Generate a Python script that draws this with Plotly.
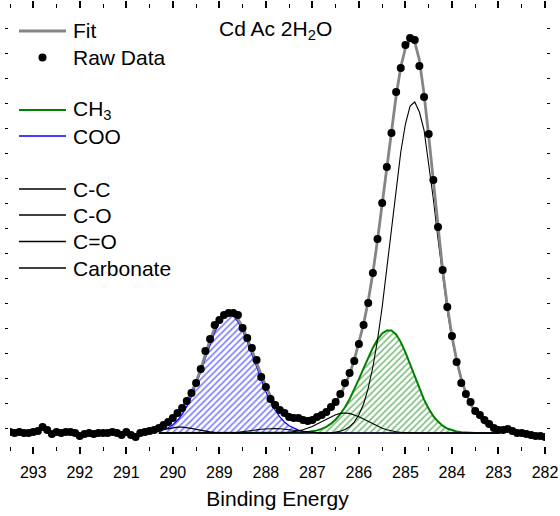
import numpy as np
import plotly.graph_objects as go

# ---------------- data ----------------
STEP = 0.1
RAW_START = 293.5   # binding energy of first raw point (eV)
FIT_START = 290.3   # binding energy of first fit/component point (eV)

raw_counts = [
    1, 0, 1, 0, 0, 1, 2, 6, 3, -1,
    1, 0, 1, 1, 0, -3, -1, 0, -1, 0,
    0, 0, 1, 0, -2, 1, -2, -4, 0, 1,
    2, 3, 5, 8, 11, 15, 20, 25, 32, 40,
    50, 64, 82, 94, 108, 113, 118, 120, 120, 118,
    105, 95, 85, 73, 56, 46, 34, 28, 23, 20,
    16, 15, 15, 13, 12, 13, 16, 18, 21, 26,
    31, 39, 50, 60, 72, 89, 108, 130, 160, 194,
    230, 266, 300, 341, 365, 388, 395, 393, 367, 336,
    299, 253, 206, 163, 126, 97, 71, 50, 39, 31,
    22, 18, 13, 9, 5, 3, 3, 4, 2, 0,
    0, -1, -2, -3, -3, -4,
]

fit_counts = [
    5, 7, 10, 14, 19, 25, 32, 41, 51, 64,
    79, 93, 105, 114, 119, 121, 119, 114, 106, 95,
    83, 70, 58, 47, 37, 29, 23, 19, 16, 15,
    14, 14, 14, 15, 17, 19, 22, 26, 31, 38,
    48, 59, 73, 90, 109, 132, 160, 193, 229, 266,
    303, 337, 366, 385, 393, 391, 373, 339, 297, 251,
    205, 163, 127, 97, 73, 54, 40, 29, 21, 15,
    10, 7, 4, 3,
]

coo = [
    1.9, 3.2, 5.2, 8.3, 12.7, 18.7, 26.6, 36.4, 48.1, 61.2,
    74.9, 88.5, 100.8, 110.5, 116.8, 119, 117, 111.4, 102.6, 91.3,
    78.7, 65.6, 52.9, 41.3, 31.2, 22.8, 16.1, 11.0, 7.3, 4.7,
    2.9, 1.7, 1.0, 0.6, 0.3, 0.15, 0, 0, 0, 0,
] + [0] * 34

carbonate = [
    2.6, 3.6, 4.6, 5.5, 5.9, 5.9, 5.5, 4.6, 3.6, 2.6,
    1.7, 1.1, 0.6, 0.3, 0.15,
] + [0] * 59

c_eq_o = [0] * 16 + [
    0.5, 0.8, 1.2, 1.7, 2.4, 3.1, 3.7, 4.2, 4.5, 4.5,
    4.2, 3.7, 3.1, 2.4, 1.7, 1.2, 0.8, 0.5, 0.3, 0.1,
] + [0] * 38

c_o = [0] * 28 + [
    0.8, 1.3, 2.1, 3.2, 4.7, 6.6, 8.9, 11.4, 13.9, 16.3,
    18.3, 19.6, 20, 19.6, 18.3, 16.3, 13.9, 11.4, 8.9, 6.6,
    4.7, 3.2, 2.1, 1.3, 0.8, 0.4, 0.2,
] + [0] * 19

ch3 = [0] * 29 + [
    0.15, 0.3, 0.5, 0.9, 1.6, 2.6, 4.1, 6.2, 9.3, 13.5,
    18.9, 25.7, 33.9, 43.4, 53.8, 64.7, 75.4, 85.3, 93.5, 99.5,
    102.6, 102.5, 98.5, 90.9, 80.6, 68.7, 56.2, 44.2, 33.4, 24.3,
    16.9, 11.4, 7.3, 4.5, 2.7, 1.5, 0.8, 0.4, 0.2, 0.1,
] + [0] * 5

c_c = [0] * 38 + [
    0.9, 1.8, 3.5, 6.3, 10.9, 18.2, 29, 44.8, 66, 93,
    126, 164, 205, 245, 281, 309, 327, 331, 321, 303,
    270, 234, 194, 156, 122, 94, 71, 53, 40, 29,
    21, 15, 10, 7, 4, 3,
]

x_ticks = list(range(282, 294))
legend_labels = ["Fit", "Raw Data", "CH<sub>3</sub>", "COO",
                 "C-C", "C-O", "C=O", "Carbonate"]
title_text = "Cd Ac 2H<sub>2</sub>O"
x_title = "Binding Energy"

for arr in (fit_counts, coo, carbonate, c_eq_o, c_o, ch3, c_c):
    assert len(arr) == len(fit_counts)

raw_be = np.round(RAW_START - STEP * np.arange(len(raw_counts)), 1)
fit_be = np.round(FIT_START - STEP * np.arange(len(fit_counts)), 1)

# ---------------- styles / layout ----------------
FONT = "Arial, 'Liberation Sans', sans-serif"
GREEN = "#008000"
BLUE = "#0000FF"
GRAY = "#858585"

W, H = 560, 516
ML, MR, MT, MB = 10, 15, 10, 71
PW, PH = W - ML - MR, H - MT - MB


def px_x(px):   # page pixel -> paper x
    return (px - ML) / PW


def px_y(py):   # page pixel -> paper y
    return (H - MB - py) / PH


fig = go.Figure()

fig.add_trace(go.Scatter(
    x=fit_be, y=ch3, mode="lines", line=dict(color=GREEN, width=2),
    fill="tozeroy", fillcolor="rgba(255,255,255,0)",
    fillpattern=dict(shape="/", fgcolor=GREEN, bgcolor="rgba(255,255,255,0)",
                     size=4.5, solidity=0.38),
    name="CH3", showlegend=False, zorder=1))
fig.add_trace(go.Scatter(
    x=fit_be, y=coo, mode="lines", line=dict(color=BLUE, width=1.2),
    fill="tozeroy", fillcolor="rgba(255,255,255,0)",
    fillpattern=dict(shape="/", fgcolor=BLUE, bgcolor="rgba(255,255,255,0)",
                     size=4.5, solidity=0.38),
    name="COO", showlegend=False, zorder=1))
for nm, comp in (("C-C", c_c), ("C-O", c_o), ("C=O", c_eq_o),
                 ("Carbonate", carbonate)):
    fig.add_trace(go.Scatter(x=fit_be, y=comp, mode="lines", name=nm,
                             line=dict(color="black", width=1.1),
                             showlegend=False, zorder=1))
fig.add_trace(go.Scatter(x=fit_be, y=fit_counts, mode="lines", name="Fit",
                         line=dict(color=GRAY, width=2.8),
                         showlegend=False, zorder=2))
fig.add_trace(go.Scatter(x=raw_be, y=raw_counts, mode="markers",
                         name="Raw Data",
                         marker=dict(color="black", size=8),
                         showlegend=False, zorder=3))

# ---- legend drawn as layout decoration (key samples + labels) ----
rows_px = [31, 57.5, 110, 136, 189, 215, 241.5, 268]
sample_colors = [GRAY, None, GREEN, BLUE, "black", "black", "black", "black"]
sample_widths = [2.8, 0, 2.2, 1.6, 1.4, 1.4, 1.4, 1.4]
shapes = []
annotations = []
for lbl, ypx, col, lw in zip(legend_labels, rows_px, sample_colors,
                             sample_widths):
    yy = px_y(ypx)
    if col is None:
        shapes.append(dict(type="circle", xref="paper", yref="paper",
                           xsizemode="pixel", ysizemode="pixel",
                           xanchor=px_x(42.5), yanchor=yy,
                           x0=-4, x1=4, y0=-4, y1=4,
                           fillcolor="black", line=dict(width=0)))
    else:
        shapes.append(dict(type="line", xref="paper", yref="paper",
                           x0=px_x(19), x1=px_x(66), y0=yy, y1=yy,
                           line=dict(color=col, width=lw)))
    annotations.append(dict(text=lbl, xref="paper", yref="paper",
                            x=px_x(71), y=yy, xanchor="left",
                            yanchor="middle", showarrow=False,
                            font=dict(family=FONT, size=21, color="black")))

annotations.append(dict(text=title_text, xref="paper", yref="paper",
                        x=px_x(275), y=px_y(30), xanchor="center",
                        yanchor="middle", showarrow=False,
                        font=dict(family=FONT, size=21, color="black")))

fig.update_layout(
    width=W, height=H,
    margin=dict(l=ML, r=MR, t=MT, b=MB),
    paper_bgcolor="white", plot_bgcolor="white",
    font=dict(family=FONT, color="black"),
    showlegend=False,
    shapes=shapes, annotations=annotations,
    xaxis=dict(
        range=[293.5, 282], tickmode="array", tickvals=x_ticks,
        ticks="outside", ticklen=7, tickwidth=1.5, tickcolor="black",
        minor=dict(dtick=0.5, tick0=282, ticks="outside", ticklen=4,
                   tickwidth=1.2, tickcolor="black"),
        showline=True, linewidth=1.5, linecolor="black", mirror="ticks",
        showgrid=False, zeroline=False, automargin=False,
        ticklabelstandoff=5,
        tickfont=dict(family=FONT, size=16),
        title=dict(text=x_title, font=dict(family=FONT, size=21),
                   standoff=11),
    ),
    yaxis=dict(
        range=[-12, 423], showticklabels=False,
        tickmode="linear", tick0=5, dtick=25,
        ticks="outside", ticklen=3, tickwidth=1, tickcolor="black",
        showline=True, linewidth=1.5, linecolor="black", mirror="ticks",
        showgrid=False, zeroline=False, automargin=False,
    ),
)

fig.write_html("out.html")
